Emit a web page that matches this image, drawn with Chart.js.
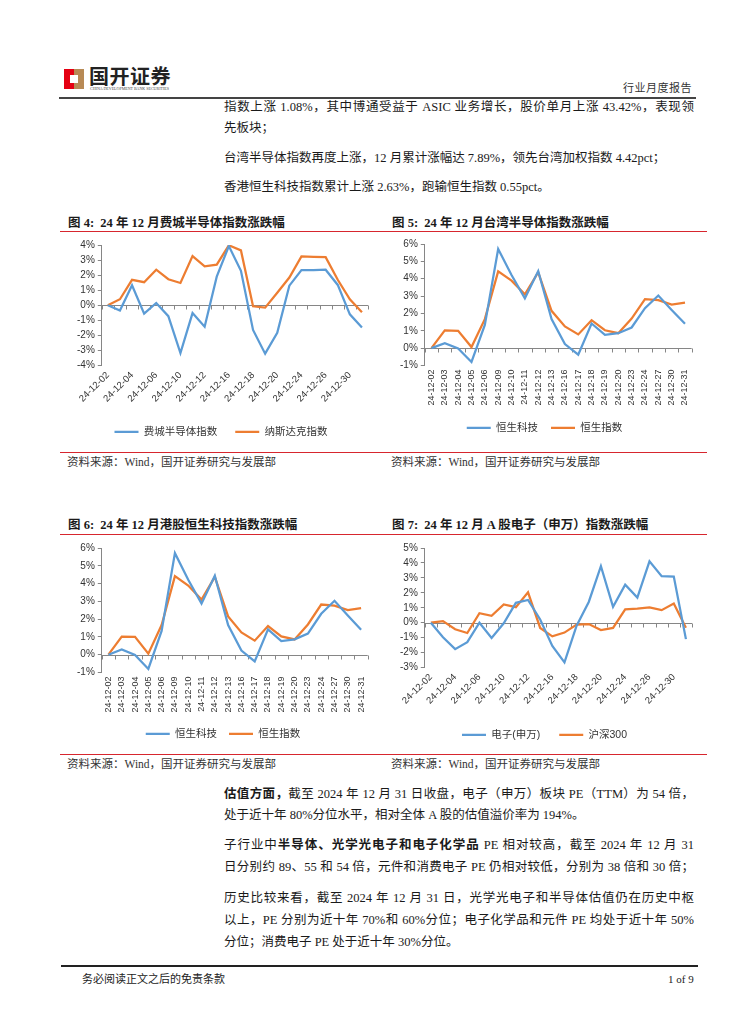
<!DOCTYPE html>
<html>
<head>
<meta charset="utf-8">
<script src="https://cdn.jsdelivr.net/npm/chart.js@4.4.1/dist/chart.umd.min.js"></script>
<style>
  html, body { margin: 0; padding: 0; background: #fff; }
  body { width: 755px; height: 1024px; position: relative; overflow: hidden;
         font-family: "Liberation Serif", "Noto Sans CJK SC", serif; color: #1a1a1a; }
  .abs { position: absolute; white-space: nowrap; }
  .txt { font-size: 12.5px; line-height: 16px; }
  .just { width: 470px; text-align: justify; text-align-last: justify; }
  .title { font-size: 12.5px; font-weight: bold; line-height: 16px; }
  .src { font-size: 11.5px; line-height: 14px; color: #333; }
  .redline { position: absolute; height: 1px; background: #d7262e; }
  .box { position: absolute; }
  b { font-weight: bold; }
</style>
</head>
<body>

<!-- header -->
<div class="abs" style="left:64px;top:69px;width:20px;height:20px;background:#e50012;">
  <div style="position:absolute;left:10px;top:0;width:10px;height:10px;background:#b88a55;"></div>
  <div style="position:absolute;left:10px;top:10px;width:10px;height:10px;background:#b88a55;"></div>
  <div style="position:absolute;left:6px;top:6px;width:8px;height:8px;background:#fff;"></div>
</div>
<div class="abs" style="left:89px;top:66px;font-size:20px;font-weight:bold;line-height:22px;color:#222;letter-spacing:0.5px;">国开证券</div>
<div class="abs" style="left:90px;top:87px;font-size:4px;line-height:4px;color:#444;">CHINA DEVELOPMENT BANK SECURITIES</div>
<div class="abs" style="left:623px;top:81px;font-size:11px;line-height:14px;color:#333;letter-spacing:0.5px;">行业月度报告</div>
<div class="abs" style="left:59px;top:97px;width:637px;height:2px;background:#444;"></div>

<!-- top text -->
<div class="abs txt just" style="left:224px;top:99px;">指数上涨 1.08%，其中博通受益于 ASIC 业务增长，股价单月上涨 43.42%，表现领</div>
<div class="abs txt" style="left:224px;top:120px;">先板块；</div>
<div class="abs txt" style="left:224px;top:150px;">台湾半导体指数再度上涨，12 月累计涨幅达 7.89%，领先台湾加权指数 4.42pct；</div>
<div class="abs txt" style="left:224px;top:179px;">香港恒生科技指数累计上涨 2.63%，跑输恒生指数 0.55pct。</div>

<!-- figure titles row 1 -->
<div class="abs title" style="left:68px;top:215px;">图 4:&nbsp; 24 年 12 月费城半导体指数涨跌幅</div>
<div class="abs title" style="left:392px;top:215px;">图 5:&nbsp; 24 年 12 月台湾半导体指数涨跌幅</div>
<div class="redline" style="left:60px;top:231px;width:647px;"></div>

<div class="box" style="left:62px;top:236px;width:314px;height:211px;"><canvas id="c1"></canvas></div>
<div class="box" style="left:385px;top:235px;width:315px;height:208px;"><canvas id="c2"></canvas></div>

<div class="redline" style="left:60px;top:452px;width:647px;"></div>
<div class="abs src" style="left:67px;top:455px;">资料来源：Wind，国开证券研究与发展部</div>
<div class="abs src" style="left:391px;top:455px;">资料来源：Wind，国开证券研究与发展部</div>

<!-- figure titles row 2 -->
<div class="abs title" style="left:68px;top:517px;">图 6:&nbsp; 24 年 12 月港股恒生科技指数涨跌幅</div>
<div class="abs title" style="left:392px;top:517px;">图 7:&nbsp; 24 年 12 月 A 股电子（申万）指数涨跌幅</div>
<div class="redline" style="left:60px;top:534px;width:647px;"></div>

<div class="box" style="left:62px;top:539px;width:314px;height:210px;"><canvas id="c3"></canvas></div>
<div class="box" style="left:385px;top:539px;width:315px;height:211px;"><canvas id="c4"></canvas></div>

<div class="redline" style="left:60px;top:754px;width:647px;"></div>
<div class="abs src" style="left:67px;top:757px;">资料来源：Wind，国开证券研究与发展部</div>
<div class="abs src" style="left:391px;top:757px;">资料来源：Wind，国开证券研究与发展部</div>

<!-- bottom text -->
<div class="abs txt just" style="left:224px;top:786px;"><b>估值方面，</b>截至 2024 年 12 月 31 日收盘，电子（申万）板块 PE（TTM）为 54 倍，</div>
<div class="abs txt" style="left:224px;top:807px;">处于近十年 80%分位水平，相对全体 A 股的估值溢价率为 194%。</div>
<div class="abs txt just" style="left:224px;top:837px;">子行业中<b>半导体、光学光电子和电子化学品</b> PE 相对较高，截至 2024 年 12 月 31</div>
<div class="abs txt just" style="left:224px;top:859px;">日分别约 89、55 和 54 倍，元件和消费电子 PE 仍相对较低，分别为 38 倍和 30 倍；</div>
<div class="abs txt just" style="left:224px;top:890px;">历史比较来看，截至 2024 年 12 月 31 日，光学光电子和半导体估值仍在历史中枢</div>
<div class="abs txt just" style="left:224px;top:912px;">以上，PE 分别为近十年 70%和 60%分位；电子化学品和元件 PE 均处于近十年 50%</div>
<div class="abs txt" style="left:224px;top:934px;">分位；消费电子 PE 处于近十年 30%分位。</div>

<!-- footer -->
<div class="abs" style="left:61px;top:965px;width:637px;height:2px;background:#222;"></div>
<div class="abs" style="left:82px;top:972px;font-size:11px;line-height:14px;color:#222;">务必阅读正文之后的免责条款</div>
<div class="abs" style="left:668px;top:972px;font-size:11px;line-height:14px;color:#222;">1 of 9</div>

<script>
// trading days (US / A-share incl. 12-25)
const usDates = ['24-12-02','24-12-03','24-12-04','24-12-05','24-12-06','24-12-09','24-12-10','24-12-11',
  '24-12-12','24-12-13','24-12-16','24-12-17','24-12-18','24-12-19','24-12-20','24-12-23','24-12-24',
  '24-12-25','24-12-26','24-12-27','24-12-30','24-12-31'];
// HK trading days
const hkDates = ['24-12-02','24-12-03','24-12-04','24-12-05','24-12-06','24-12-09','24-12-10','24-12-11',
  '24-12-12','24-12-13','24-12-16','24-12-17','24-12-18','24-12-19','24-12-20','24-12-23','24-12-24',
  '24-12-27','24-12-30','24-12-31'];
const aDates = usDates;

// cumulative change, %
const phlxSemi = [0, -0.35, 1.33, -0.56, 0.15, -0.72, -3.17, -0.52, -1.42, 1.9, 3.93, 2.29, -1.64, -3.21,
  -1.82, 1.3, 2.34, 2.34, 2.36, 1.35, -0.6, -1.48];
const nasdaq = [0, 0.4, 1.69, 1.53, 2.36, 1.73, 1.48, 3.26, 2.58, 2.7, 3.98, 3.64, -0.07, -0.16,
  0.83, 1.84, 3.24, 3.22, 3.19, 1.69, 0.4, -0.47];

const hsTech = [0, 0.29, -0.02, -0.8, 1.34, 5.71, 4.21, 2.87, 4.44, 1.67, 0.23, -0.38, 1.42, 0.77,
  0.86, 1.19, 2.3, 3.03, 2.2, 1.4];
const hsi = [0, 1.02, 1.0, 0.06, 1.67, 4.42, 3.89, 3.1, 4.37, 2.15, 1.25, 0.79, 1.61, 1.03,
  0.86, 1.7, 2.82, 2.76, 2.51, 2.62];

const swElec = [0, -0.97, -1.77, -1.3, 0, -1.02, -0.04, 1.33, 1.52, 0.22, -1.55, -2.65, -0.2, 1.39,
  3.78, 1.06, 2.54, 1.68, 4.11, 3.12, 3.09, -1.1];
const csi300 = [0, 0.11, -0.44, -0.69, 0.64, 0.46, 1.22, 1.04, 2.03, -0.35, -0.91, -0.66, -0.13, -0.09,
  -0.49, -0.35, 0.9, 0.95, 1.02, 0.84, 1.28, -0.33];

// y ranges [min, max]
const fig4Range = [-4, 4];
const fig5Range = [-1, 6];
const fig7Range = [-3, 5];

const BLUE = '#5b9bd5';
const ORANGE = '#ed7d31';
const AXIS = '#868686';
const FONT = '"Liberation Sans", "Noto Sans CJK SC", sans-serif';

// horizontal axis sits at 0% with small tick marks, like the Excel original
const zeroAxis = {
  id: 'zeroAxis',
  beforeDatasetsDraw(chart) {
    const { ctx, chartArea } = chart;
    const x = chart.scales.x, y = chart.scales.y;
    const y0 = Math.round(y.getPixelForValue(0)) + 0.5;
    const n = chart.data.labels.length;
    const step = x.getPixelForValue(1) - x.getPixelForValue(0);
    ctx.save();
    ctx.strokeStyle = AXIS;
    ctx.lineWidth = 1;
    ctx.beginPath();
    ctx.moveTo(chartArea.left, y0);
    ctx.lineTo(chartArea.right, y0);
    for (let i = 0; i <= n; i++) {
      const px = Math.round(x.getPixelForValue(i) - step / 2) + 0.5;
      ctx.moveTo(px, y0);
      ctx.lineTo(px, y0 + 4);
    }
    ctx.stroke();
    ctx.restore();
  }
};

function makeChart(id, labels, s1, s2, names, range, rotation, everyOther, pad, xFont, legendPad) {
  const ctx = document.getElementById(id).getContext('2d');
  return new Chart(ctx, {
    type: 'line',
    data: {
      labels: labels,
      datasets: [
        { label: names[0], data: s1, borderColor: BLUE, backgroundColor: BLUE, borderWidth: 2.25,
          pointRadius: 0, tension: 0 },
        { label: names[1], data: s2, borderColor: ORANGE, backgroundColor: ORANGE, borderWidth: 2.25,
          pointRadius: 0, tension: 0 }
      ]
    },
    options: {
      responsive: true,
      maintainAspectRatio: false,
      animation: false,
      layout: { padding: pad },
      plugins: {
        legend: {
          position: 'bottom',
          labels: {
            usePointStyle: true,
            pointStyle: 'line',
            pointStyleWidth: 24,
            boxHeight: 10,
            padding: legendPad,
            color: '#333',
            font: { family: FONT, size: 10.5 }
          }
        },
        tooltip: { enabled: false }
      },
      scales: {
        x: {
          offset: true,
          grid: { display: false, drawTicks: false },
          border: { display: false },
          ticks: {
            autoSkip: false,
            minRotation: rotation,
            maxRotation: rotation,
            padding: 4,
            color: '#333',
            font: { family: FONT, size: xFont },
            callback: function (value, index) {
              if (everyOther && index % 2 !== 0) return '';
              return this.getLabelForValue(value);
            }
          }
        },
        y: {
          min: range[0],
          max: range[1],
          grid: { drawOnChartArea: false, drawTicks: true, tickLength: 4, color: AXIS },
          border: { display: true, color: AXIS },
          ticks: {
            stepSize: 1,
            autoSkip: false,
            padding: 3,
            color: '#333',
            font: { family: FONT, size: 10 },
            callback: (v) => v + '%'
          }
        }
      }
    },
    plugins: [zeroAxis]
  });
}

makeChart('c1', usDates, phlxSemi, nasdaq, ['费城半导体指数', '纳斯达克指数'], fig4Range, 45, true,
  { left: 12, right: 8, top: 4, bottom: 0 }, 9.5, 18);
makeChart('c2', hkDates, hsTech, hsi, ['恒生科技', '恒生指数'], fig5Range, 90, false,
  { left: 12, right: 8, top: 4, bottom: 0 }, 9, 13);
makeChart('c3', hkDates, hsTech, hsi, ['恒生科技', '恒生指数'], fig5Range, 90, false,
  { left: 12, right: 4, top: 4, bottom: 0 }, 9, 12);
makeChart('c4', aDates, swElec, csi300, ['电子(申万)', '沪深300'], fig7Range, 45, true,
  { left: 12, right: 8, top: 4, bottom: 0 }, 9.5, 19);
</script>
</body>
</html>
